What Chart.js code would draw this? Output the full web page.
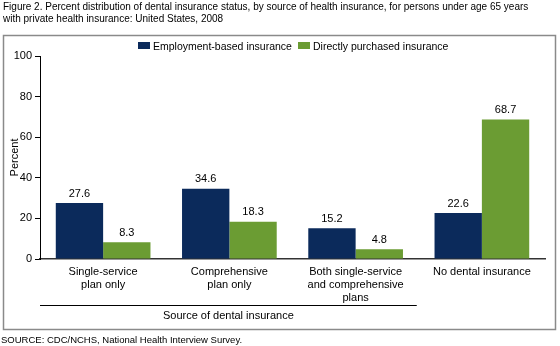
<!DOCTYPE html>
<html>
<head>
<meta charset="utf-8">
<script src="https://cdn.jsdelivr.net/npm/chart.js@4"></script>
<style>
  html, body { margin: 0; padding: 0; background: #fff; }
  #wrap { position: relative; width: 560px; height: 346px; overflow: hidden; font-family: "Liberation Sans", Arial, sans-serif; }
  #title { position: absolute; left: 3px; top: 1px; font-size: 10px; line-height: 12px; color: #000; white-space: nowrap; }
  #source { position: absolute; left: 1px; top: 335px; font-size: 9.5px; line-height: 10px; color: #000; white-space: nowrap; }
  canvas { position: absolute; left: 0; top: 0; }
  #legend { position: absolute; top: 40px; left: 0; width: 560px; font-size: 10.5px; line-height: 12px; }
  .li { position: absolute; top: 0; white-space: nowrap; }
  .sw { display: inline-block; width: 12px; height: 7px; vertical-align: 1px; margin-right: 3px; }
</style>
</head>
<body>
<div id="wrap">
  <canvas id="c" width="560" height="346"></canvas>
  <div id="title">Figure 2. Percent distribution of dental insurance status, by source of health insurance, for persons under age 65 years<br>with private health insurance: United States, 2008</div>
  <div id="legend"></div>
  <div id="source">SOURCE: CDC/NCHS, National Health Interview Survey.</div>
</div>
<script>
const categories = [
  ["Single-service", "plan only"],
  ["Comprehensive", "plan only"],
  ["Both single-service", "and comprehensive", "plans"],
  ["No dental insurance"]
];
const seriesNames = ["Employment-based insurance", "Directly purchased insurance"];
const employmentValues = [27.6, 34.6, 15.2, 22.6];
const directValues = [8.3, 18.3, 4.8, 68.7];
const yTicks = [0, 20, 40, 60, 80, 100];
const groupTitle = "Source of dental insurance";
const colors = ["#0b2a5b", "#6b9c33"];

// HTML legend
const legend = document.getElementById('legend');
const legendX = [138, 298];
seriesNames.forEach((n, i) => {
  const d = document.createElement('div');
  d.className = 'li';
  d.style.left = legendX[i] + 'px';
  d.innerHTML = '<span class="sw" style="background:' + colors[i] + '"></span>' + n;
  legend.appendChild(d);
});

const FONT = "'Liberation Sans', Arial, sans-serif";

const decor = {
  id: 'decor',
  afterDraw(chart) {
    const ctx = chart.ctx;
    const x = chart.scales.x;
    const area = chart.chartArea;
    ctx.save();
    // frame
    ctx.strokeStyle = '#8a8a8a';
    ctx.lineWidth = 1.5;
    ctx.strokeRect(3.5, 35.5, 552, 294);
    // value labels
    ctx.fillStyle = '#000';
    ctx.font = "11px " + FONT;
    ctx.textAlign = 'center';
    ctx.textBaseline = 'bottom';
    chart.data.datasets.forEach((ds, di) => {
      chart.getDatasetMeta(di).data.forEach((bar, i) => {
        ctx.fillText(ds.data[i].toFixed(1), bar.x, bar.y - 4);
      });
    });
    // bracket line under first three categories
    const x0 = area.left;
    const x1 = x.getPixelForValue(2) + (x.getPixelForValue(1) - x.getPixelForValue(0)) / 2 - 2;
    ctx.strokeStyle = '#000';
    ctx.lineWidth = 1;
    ctx.beginPath();
    ctx.moveTo(x0, 305.5);
    ctx.lineTo(x1, 305.5);
    ctx.stroke();
    ctx.textBaseline = 'middle';
    ctx.fillText(groupTitle, (x0 + x1) / 2, 316);
    ctx.restore();
  }
};

new Chart(document.getElementById('c'), {
  type: 'bar',
  data: {
    labels: categories,
    datasets: [
      { label: seriesNames[0], data: employmentValues, backgroundColor: colors[0] },
      { label: seriesNames[1], data: directValues, backgroundColor: colors[1] }
    ]
  },
  options: {
    responsive: false,
    animation: false,
    devicePixelRatio: 1,
    layout: { padding: { left: 0, right: 15, top: 56, bottom: 0 } },
    plugins: { legend: { display: false }, tooltip: { enabled: false } },
    datasets: { bar: { barPercentage: 1, categoryPercentage: 0.75 } },
    scales: {
      x: {
        grid: { display: false, drawTicks: false },
        border: { color: '#333', width: 1.5 },
        ticks: { color: '#000', font: { family: FONT, size: 11 }, padding: 6, maxRotation: 0, autoSkip: false },
        afterFit(s) { s.height = 87; }
      },
      y: {
        min: 0, max: 100,
        afterBuildTicks(s) { s.ticks = yTicks.map(v => ({ value: v })); },
        grid: { display: true, drawOnChartArea: false, drawTicks: true, tickLength: 5, color: '#000' },
        border: { color: '#000', width: 1 },
        ticks: { color: '#000', font: { family: FONT, size: 11 }, padding: 3 },
        title: { display: true, text: 'Percent', color: '#000', font: { family: FONT, size: 11 }, padding: { top: 8, bottom: 0 } },
        afterFit(s) { s.width = 40; }
      }
    }
  },
  plugins: [decor]
});
</script>
</body>
</html>
